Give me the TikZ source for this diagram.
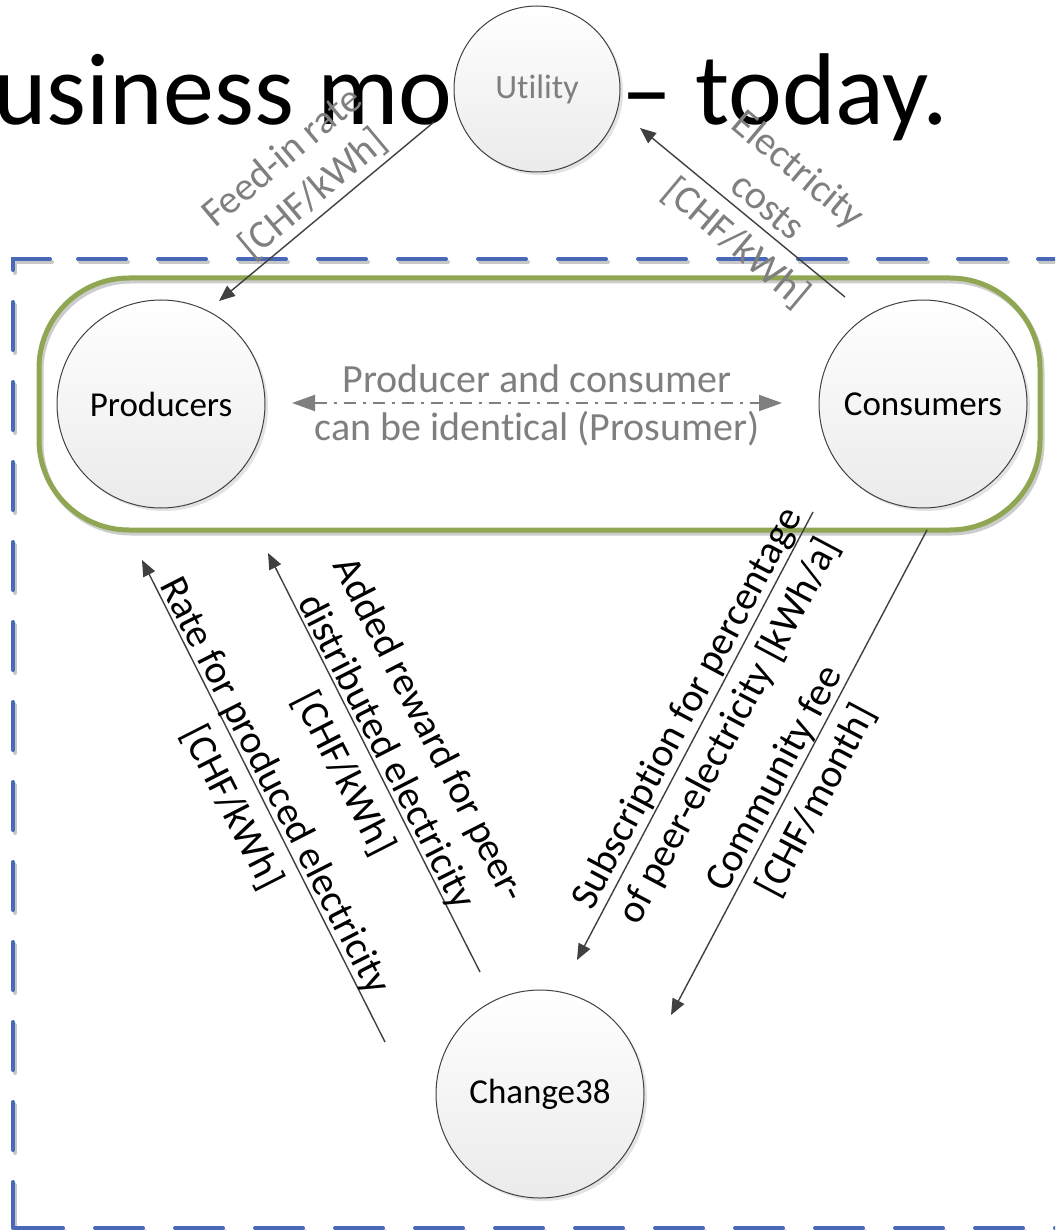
\documentclass[tikz,border=0pt]{standalone}
\usepackage{fontspec}
\setmainfont{Carlito}[Ligatures={TeX,NoCommon}]
\usetikzlibrary{arrows.meta,shadows}
\definecolor{bluedash}{HTML}{4A68B8}
\definecolor{olivegr}{HTML}{8FA653}
\definecolor{txtgray}{HTML}{7F7F7F}
\definecolor{linegray}{HTML}{404040}
\tikzset{
  circ/.style={circle, draw=linegray, line width=1pt, top color=white, bottom color=black!8,
    minimum size=208pt, inner sep=0pt, font=\fontsize{35}{42}\selectfont,
    drop shadow={shadow xshift=3pt, shadow yshift=-3pt, fill=black!22}},
  conn/.style={draw=linegray, line width=1.4pt, -{Triangle[length=16pt,width=13pt]}},
  lbl/.style={font=\fontsize{40}{48}\selectfont, align=center, inner sep=0pt},
  glbl/.style={lbl, text=txtgray},
  bluedashed/.style={draw=bluedash, line width=4pt, line cap=round, dash pattern=on 48pt off 32pt},
  blueshadow/.style={draw=black!22, line width=4pt, line cap=round, dash pattern=on 48pt off 32pt},
  titlefont/.style={anchor=base west, inner sep=0pt, font=\fontsize{102}{122}\selectfont}
}
\begin{document}
\begin{tikzpicture}[x=1pt,y=-1pt]
\useasboundingbox (0,0) rectangle (1055,1230);
\clip (0,0) rectangle (1055,1230);

% title (partly hidden by the Utility circle)
\node[titlefont] (t1) at (-7,125) {usiness mo};
\node[titlefont] (t2) at (621,125) {– today.};

% Utility
\node[circ, minimum size=166pt, text=txtgray, font=\fontsize{34}{40}\selectfont] (util) at (537,89) {Utility};

% blue dashed frame (shadow + line)
\begin{scope}[shift={(2,3)}]
\draw[blueshadow] (50,259) -- (13,259) -- (13,1228);
\draw[blueshadow, dash phase=52pt] (50,259) -- (1100,259);
\draw[blueshadow] (15,1228) -- (1100,1228);
\end{scope}
\draw[bluedashed] (50,259) -- (13,259) -- (13,1228);
\draw[bluedashed, dash phase=52pt] (50,259) -- (1100,259);
\draw[bluedashed] (15,1228) -- (1100,1228);

% green rounded frame
\draw[black!20, line width=5pt, rounded corners=90pt, shift={(2,3)}] (39,278) rectangle (1040,530);
\draw[olivegr, line width=5pt, rounded corners=90pt] (39,278) rectangle (1040,530);

% actors
\node[circ] (prod) at (161,404) {Producers};
\node[circ] (cons) at (923,404) {Consumers};
\node[circ] (chg) at (540,1094) {Change38};

% connector end points
\coordinate (fS) at (434,122);
\coordinate (fE) at (219,301);
\coordinate (eS) at (845,297);
\coordinate (eE) at (640,128);
\coordinate (pL) at (292,403);
\coordinate (pR) at (782,403);
\coordinate (rS) at (385,1042);
\coordinate (rE) at (142,560);
\coordinate (aS) at (480,972);
\coordinate (aE) at (268,553);
\coordinate (sS) at (813,512);
\coordinate (sE) at (577,960);
\coordinate (cS) at (927,530);
\coordinate (cE) at (671,1015);

% connectors
\draw[conn] (fS) -- (fE);
\draw[conn] (eS) -- (eE);
\draw[draw=txtgray, line width=2pt, dash pattern=on 12pt off 7pt on 3pt off 7pt,
      {Triangle[length=23pt,width=16pt]}-{Triangle[length=23pt,width=16pt]}] (pL) -- (pR);
\draw[conn] (rS) -- (rE);
\draw[conn] (aS) -- (aE);
\draw[conn] (sS) -- (sE);
\draw[conn] (cS) -- (cE);

% labels
\node[glbl, rotate=40] (lfeed) at (298,176) {Feed-in rate\\{}[CHF/kWh]};
\node[glbl, rotate=-40] (lelec) at (767,207) {Electricity\\costs\\{}[CHF/kWh]};
\node[glbl, anchor=base] (lpro1) at (537,392) {Producer and consumer};
\node[glbl, anchor=base] (lpro2) at (537,440) {can be identical (Prosumer)};
\node[lbl, rotate=-63] (lrate) at (253,797) {Rate for produced electricity\\{}[CHF/kWh]};
\node[lbl, rotate=-63] (ladd) at (386,752) {Added reward for peer-\\distributed electricity\\{}[CHF/kWh]};
\node[lbl, rotate=62] (lsub) at (709,720) {Subscription for percentage\\of peer-electricity [kWh/a]};
\node[lbl, rotate=62] (lcom) at (796,790) {Community fee\\{}[CHF/month]};
\end{tikzpicture}
\end{document}
